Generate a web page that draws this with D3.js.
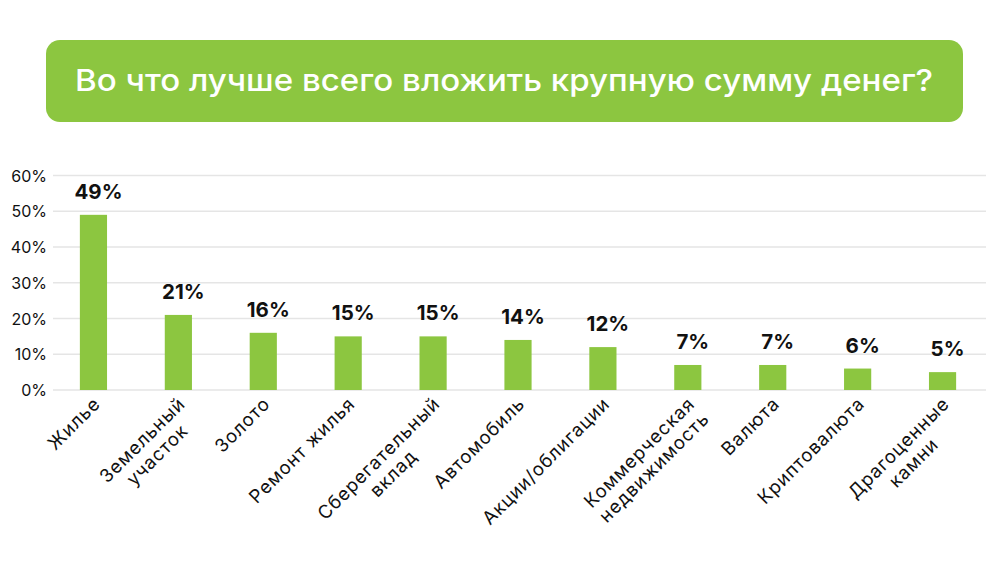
<!DOCTYPE html>
<html><head><meta charset="utf-8">
<script src="https://cdn.jsdelivr.net/npm/d3@7"></script>
<style>
html,body{margin:0;padding:0;background:#fff;}
svg{display:block;}
text{font-family:Inter,"Noto Sans",sans-serif;}
</style></head>
<body>
<svg id="chart" width="1000" height="580"></svg>
<script>
const title = "Во что лучше всего вложить крупную сумму денег?";
const categories = [
  ["Жилье"],
  ["Земельный","участок"],
  ["Золото"],
  ["Ремонт жилья"],
  ["Сберегательный","вклад"],
  ["Автомобиль"],
  ["Акции/облигации"],
  ["Коммерческая","недвижимость"],
  ["Валюта"],
  ["Криптовалюта"],
  ["Драгоценные","камни"]
];
const values = [49, 21, 16, 15, 15, 14, 12, 7, 7, 6, 5];
const yTicks = [0, 10, 20, 30, 40, 50, 60];

const green = "#8CC640";
const svg = d3.select("#chart");

// title banner
svg.append("rect").attr("x",46).attr("y",40).attr("width",917).attr("height",82)
  .attr("rx",14).attr("fill",green);
const tt = svg.append("text").attr("x",504).attr("y",91).attr("text-anchor","middle")
  .attr("fill","#fff").attr("font-size",30).attr("font-weight",500).text(title);
const tw = tt.node().getComputedTextLength();
if (tw > 0) tt.attr("textLength", 858).attr("lengthAdjust","spacingAndGlyphs");

const x = d3.scaleBand().domain(d3.range(categories.length)).range([51,985]).paddingInner(0.68).paddingOuter(0.34);
const y = d3.scaleLinear().domain([0,60]).range([390,175.5]);

// grid
svg.append("g").selectAll("line").data(yTicks).join("line")
  .attr("x1",53).attr("x2",986).attr("y1",d=>y(d)).attr("y2",d=>y(d))
  .attr("stroke","#e5e5e5").attr("stroke-width",1.5);

// y axis labels
const yAxis = d3.axisLeft(y).tickValues(yTicks).tickFormat(d=>d+"%").tickSize(0).tickPadding(0);
const ga = svg.append("g").attr("transform","translate(47,0)").call(yAxis);
ga.select(".domain").remove();
ga.selectAll("text").attr("font-size",16).attr("fill","#111").attr("dy","0.35em")
  .style("font-family","Inter, sans-serif");

// bars
svg.append("g").selectAll("rect").data(values).join("rect")
  .attr("x",(d,i)=>x(i)).attr("width",x.bandwidth())
  .attr("y",d=>y(d)).attr("height",d=>y(0)-y(d)).attr("fill",green);

// value labels
svg.append("g").selectAll("text").data(values).join("text")
  .attr("x",(d,i)=>x(i)+x.bandwidth()/2+5).attr("y",d=>y(d)-16)
  .attr("text-anchor","middle").attr("font-size",20.5).attr("font-weight",700)
  .attr("fill","#111").text(d=>d+"%");

// category labels
const lh = 21;
const cg = svg.append("g");
categories.forEach((lines,i)=>{
  const cx = x(i)+x.bandwidth()/2 + 8;
  const g = cg.append("g").attr("transform",`translate(${cx},405) rotate(-45)`);
  const texts = lines.map((l,j)=>g.append("text").attr("font-size",18.5).attr("fill","#111")
     .attr("letter-spacing",0.9).attr("y", j*lh).text(l));
  const widths = texts.map(t=>t.node().getComputedTextLength());
  const W = d3.max(widths);
  texts.forEach((t,j)=>{
    t.attr("text-anchor","middle").attr("x", -W/2);
  });
});
</script>
</body></html>
